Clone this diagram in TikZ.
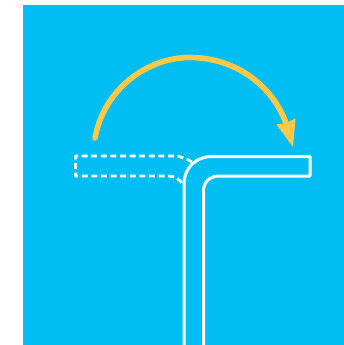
\documentclass[tikz,border=0pt]{standalone}
\definecolor{bluebg}{RGB}{0,189,244}
\definecolor{amber}{RGB}{255,200,70}
\tikzset{
  profile/.style={draw=white,line width=3pt,line join=round},
  ghost/.style={draw=white,line width=2.7pt,dash pattern=on 6pt off 3.6pt,line join=round},
  sweep/.style={draw=amber,line width=5.6pt,line cap=round},
  sweephead/.style={fill=amber,draw=none}
}
\begin{document}
\begin{tikzpicture}[x=1pt,y=-1pt]
\useasboundingbox (0,0) rectangle (344,345);
\fill[bluebg] (22.5,5) rectangle (344,345);
% named anchor points
\coordinate (ob) at (184,345);
\coordinate (ib) at (203.5,345);
\coordinate (start) at (95,138);
\coordinate (peak) at (190,57.5);
\coordinate (neck) at (286,123);
\coordinate (tip) at (293,147);
\coordinate (barbL) at (276.5,124.5);
\coordinate (barbR) at (295.5,118.5);
% solid profile
\draw[profile] (ob) -- (184,184) .. controls (184,168) and (196,156.5) .. (212,156.5)
  -- (310,156.5) -- (310,176) -- (219,176) .. controls (210,176) and (203.5,182) .. (203.5,191) -- (ib);
% dashed ghost
\draw[ghost] (192,162) .. controls (187,159) and (181,156) .. (174,156) -- (75.5,156) -- (75.5,176)
  -- (168,176) .. controls (175,176) and (180,179) .. (183,185);
% sweep arrow
\draw[sweep] (start) .. controls (104,89) and (147,57.5) .. (peak) .. controls (235,57.5) and (272,85) .. (neck);
\fill[sweephead] (barbL) -- (tip) -- (barbR) -- (286,123) -- cycle;
\end{tikzpicture}
\end{document}
